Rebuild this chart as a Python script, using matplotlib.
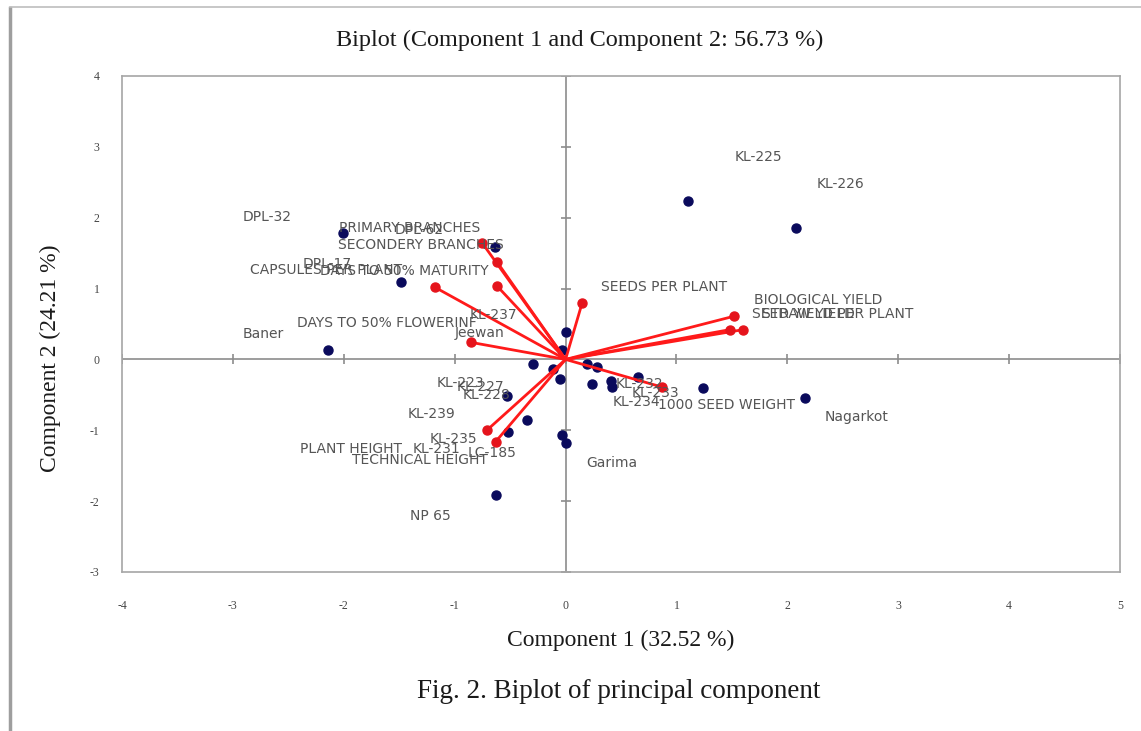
import numpy as np
import matplotlib
matplotlib.use("Agg")
import matplotlib.pyplot as plt
from matplotlib.lines import Line2D

plt.rcParams["axes.unicode_minus"] = False

# observations (genotype scores)
obs_names = ["KL-225", "KL-226", "DPL-32", "DPL-62", "DPL-17", "Baner", "KL-237", "Jeewan",
             "KL-223", "KL-227", "KL-231", "", "", "KL-234", "KL-232", "", "KL-233", "",
             "Nagarkot", "KL-228", "KL-239", "KL-235", "LC-185", "Garima", "NP 65"]
obs_pc1 = [1.10, 2.08, -2.01, -0.64, -1.48, -2.14, 0.00, -0.03, -0.29, -0.11, -0.05, 0.19, 0.28,
           0.24, 0.41, 0.42, 0.65, 1.24, 2.16, -0.53, -0.35, -0.52, -0.03, 0.00, -0.63]
obs_pc2 = [2.23, 1.86, 1.79, 1.59, 1.09, 0.14, 0.39, 0.13, -0.07, -0.13, -0.28, -0.07, -0.10,
           -0.35, -0.30, -0.39, -0.25, -0.41, -0.55, -0.52, -0.85, -1.03, -1.07, -1.18, -1.92]

# variables (loadings)
var_names = ["PRIMARY BRANCHES", "SECONDERY BRANCHES", "DAYS TO 50% MATURITY", "CAPSULES PER PLANT",
             "DAYS TO 50% FLOWERINF", "SEEDS PER PLANT", "BIOLOGICAL YIELD", "SEED YIELD PER PLANT",
             "STRAW YIELD", "1000 SEED WEIGHT", "PLANT HEIGHT", "TECHNICAL HEIGHT"]
var_pc1 = [-0.75, -0.62, -0.62, -1.18, -0.85, 0.15, 1.52, 1.60, 1.48, 0.87, -0.71, -0.63]
var_pc2 = [1.64, 1.38, 1.04, 1.02, 0.24, 0.80, 0.61, 0.42, 0.42, -0.39, -1.00, -1.16]

xticks = list(range(-4, 6))
yticks = list(range(-3, 5))

# label placement (pixel offsets from the point, as in the excel chart)
obs_offsets = [(47, 44), (20, 44), (-100, 16), (-100, 17), (-99, 18), (-86, 16), (-96, 17), (-108, 17),
               (-97, -19), (-97, -18), (-147, -70), (0, 0), (0, 0), (20, -18), (5, -3), (0, 0), (-6, -16),
               (0, 0), (20, -19), (-44, 1), (-119, 6), (-78, -7), (-95, -18), (21, -20), (-86, -21)]
var_offsets = [(-143, 15), (-159, 17), (-177, 15), (-185, 17), (-174, 19), (19, 16), (20, 16), (9, 16),
               (32, 16), (-4, -18), (-187, -19), (-144, -18)]

W, H = 1141, 731
fig = plt.figure(figsize=(W / 100, H / 100), dpi=100)
ax = fig.add_axes([122 / W, 1 - 572 / H, (1120 - 122) / W, (572 - 76) / H])

grey = "#a6a6a6"
ax.set_xlim(-4, 5)
ax.set_ylim(-3, 4)
for s in ax.spines.values():
    s.set_color(grey)
    s.set_linewidth(1.2)
ax.axhline(0, color="#8c8c8c", lw=1.2, zorder=1)
ax.axvline(0, color="#8c8c8c", lw=1.2, zorder=1)
# little tick crosses on the zero axes
ax.plot(xticks, np.zeros(len(xticks)), ls="none", marker="|", ms=7, color="#8c8c8c", mew=1.2, zorder=1)
ax.plot(np.zeros(len(yticks)), yticks, ls="none", marker="_", ms=7, color="#8c8c8c", mew=1.2, zorder=1)

ax.set_xticks(xticks)
ax.set_yticks(yticks)
ax.tick_params(length=0, labelsize=8.5, colors="#444444")
ax.tick_params(axis="x", pad=20)
ax.tick_params(axis="y", pad=16)
for lab in ax.get_xticklabels() + ax.get_yticklabels():
    lab.set_fontfamily("Liberation Serif")

# observations
ax.plot(obs_pc1, obs_pc2, ls="none", marker="o", ms=6.5, color="#0a0a5c", zorder=3)

# variable vectors
for x, y in zip(var_pc1, var_pc2):
    ax.plot([0, x], [0, y], color="#ff1a1a", lw=2, zorder=4)
ax.plot(var_pc1, var_pc2, ls="none", marker="o", ms=6.5, color="#e5141c", zorder=5)

lab_kw = dict(textcoords="offset pixels", ha="left", va="center", fontsize=10,
              color="#555555", family="DejaVu Sans", zorder=6)
for name, x, y, off in zip(obs_names, obs_pc1, obs_pc2, obs_offsets):
    if name:
        ax.annotate(name, (x, y), xytext=off, **lab_kw)
for name, x, y, off in zip(var_names, var_pc1, var_pc2, var_offsets):
    ax.annotate(name, (x, y), xytext=off, **lab_kw)

serif = "Liberation Serif"
fig.text(580 / W, 1 - 40 / H, "Biplot (Component 1 and Component 2: 56.73 %)",
         ha="center", va="center", fontsize=17.5, family=serif, color="#1a1a1a")
fig.text(621 / W, 1 - 640 / H, "Component 1 (32.52 %)",
         ha="center", va="center", fontsize=17, family=serif, color="#1a1a1a")
fig.text(50 / W, 1 - 358 / H, "Component 2 (24.21 %)", rotation=90,
         ha="center", va="center", fontsize=17, family=serif, color="#1a1a1a")
fig.text(619 / W, 1 - 692 / H, "Fig. 2. Biplot of principal component",
         ha="center", va="center", fontsize=19.5, family=serif, color="#1a1a1a")

# page border of the scanned figure
fig.add_artist(Line2D([10 / W, 10 / W], [0, 1 - 8 / H], color="#9e9e9e", lw=2.5))
fig.add_artist(Line2D([10 / W, 1], [1 - 7 / H, 1 - 7 / H], color="#bdbdbd", lw=1.2))

fig.savefig("out.png", dpi=100)
